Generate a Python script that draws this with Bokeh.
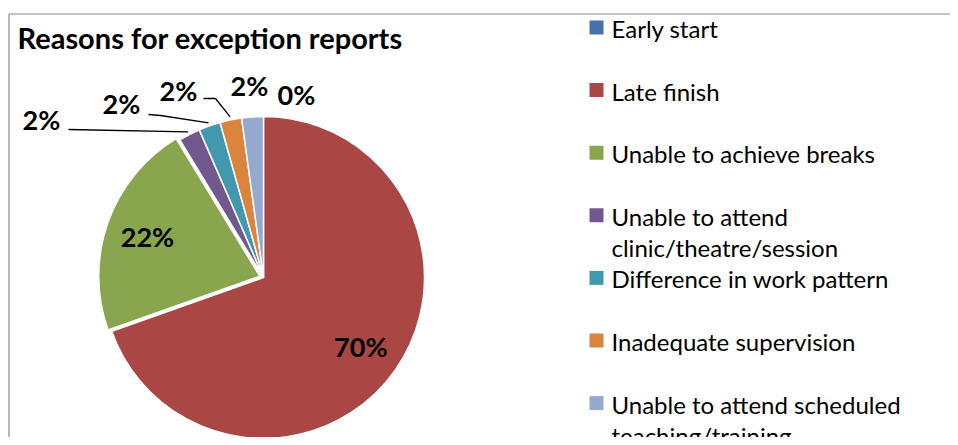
import math
from bokeh.plotting import figure
from bokeh.models import Range1d
from bokeh.core.properties import value
from bokeh.embed import file_html
from bokeh.resources import INLINE

# ---------------- data ----------------
title_text = "Reasons for exception reports"
categories = ["Early start", "Late finish", "Unable to achieve breaks",
              "Unable to attend clinic/theatre/session", "Difference in work pattern",
              "Inadequate supervision", "Unable to attend scheduled teaching/training"]
legend_lines = [["Early start"], ["Late finish"], ["Unable to achieve breaks"],
                ["Unable to attend", "clinic/theatre/session"], ["Difference in work pattern"],
                ["Inadequate supervision"], ["Unable to attend scheduled", "teaching/training"]]
counts = [0, 32, 10, 1, 1, 1, 1]
colors = ["#4572A7", "#AA4643", "#89A54E", "#71588F", "#4198AF", "#DB843D", "#93A9CF"]

# ---------------- layout (page pixels) ----------------
W, H = 950, 437
def X(px): return px
def Y(py): return H - py

CX, CY, R = 263, 277, 161
explode = [0, 0, 4, 0, 0, 0, 0]
inner_r = [None, 0.74, 0.74, None, None, None, None]
# outer label anchors (page px: visual centre)
outer_lab = {0: (296, 94), 3: (41, 119), 4: (121, 103), 5: (178, 90), 6: (249, 85)}
# leader line starting points (page px)
leaders = {3: [(68, 129)], 4: [(148, 114), (160, 115)], 5: [(203, 98), (215, 98)]}

LAB_FONT = value("Lato")

p = figure(width=W, height=H, x_range=Range1d(0, W), y_range=Range1d(0, H),
           output_backend="svg", toolbar_location=None, min_border=0)
p.axis.visible = False
p.grid.visible = False
p.outline_line_color = None
p.background_fill_color = "white"
p.border_fill_color = "white"

# chart border (top & left visible)
p.segment(x0=[X(8.5), X(8.5)], y0=[Y(13.5), Y(13.5)], x1=[W, X(8.5)], y1=[Y(13.5), 0],
          line_color="#8a8a8a", line_width=1.2)

# title
p.text(x=[X(17)], y=[Y(37)], text=[title_text], text_font=LAB_FONT, text_font_style="bold",
       text_font_size="29px", text_align="left", text_baseline="middle", text_color="black")

total = float(sum(counts))
cum = 0.0
for i, c in enumerate(counts):
    f0 = cum / total
    cum += c
    f1 = cum / total
    mid = (f0 + f1) / 2 * 2 * math.pi   # clockwise from 12 o'clock
    dx, dy = math.sin(mid), math.cos(mid)
    cx = X(CX) + explode[i] * dx
    cy = Y(CY) + explode[i] * dy
    sa = math.pi / 2 - 2 * math.pi * f0
    ea = math.pi / 2 - 2 * math.pi * f1
    if c > 0:
        p.wedge(x=[cx], y=[cy], radius=R, start_angle=sa, end_angle=ea, direction="clock",
                fill_color=colors[i], line_color="white", line_width=1.5)
    else:
        p.segment(x0=[cx], y0=[cy], x1=[cx + R * dx], y1=[cy + R * dy],
                  line_color=colors[i], line_width=1.2)
    pct = "%d%%" % round(100 * c / total)
    if inner_r[i] is not None:
        rr = inner_r[i] * R
        p.text(x=[cx + rr * dx], y=[cy + rr * dy], text=[pct], text_font=LAB_FONT,
               text_font_style="bold", text_font_size="27px", text_align="center",
               text_baseline="middle", text_color="black")
    else:
        lx, ly = outer_lab[i]
        p.text(x=[X(lx)], y=[Y(ly)], text=[pct], text_font=LAB_FONT, text_font_style="bold",
               text_font_size="27px", text_align="center", text_baseline="middle",
               text_color="black")
    if i in leaders:
        pts = [(X(a), Y(b)) for a, b in leaders[i]]
        pts.append((X(CX) + (R + 3) * dx, Y(CY) + (R + 3) * dy))
        p.line(x=[q[0] for q in pts], y=[q[1] for q in pts], line_color="black", line_width=1.3)

# legend
LEG_X, LEG_Y0, LEG_DY, LINE_DY = 596, 27, 62.6, 31
for i, lines in enumerate(legend_lines):
    yc = LEG_Y0 + LEG_DY * i
    p.rect(x=[X(LEG_X)], y=[Y(yc)], width=14, height=14, fill_color=colors[i], line_color=None)
    for k, t in enumerate(lines):
        p.text(x=[X(611)], y=[Y(yc + 1 + LINE_DY * k)], text=[t], text_font=LAB_FONT,
               text_font_size="24px", text_align="left", text_baseline="middle",
               text_color="black")

open("out.html", "w").write(file_html(p, INLINE))
